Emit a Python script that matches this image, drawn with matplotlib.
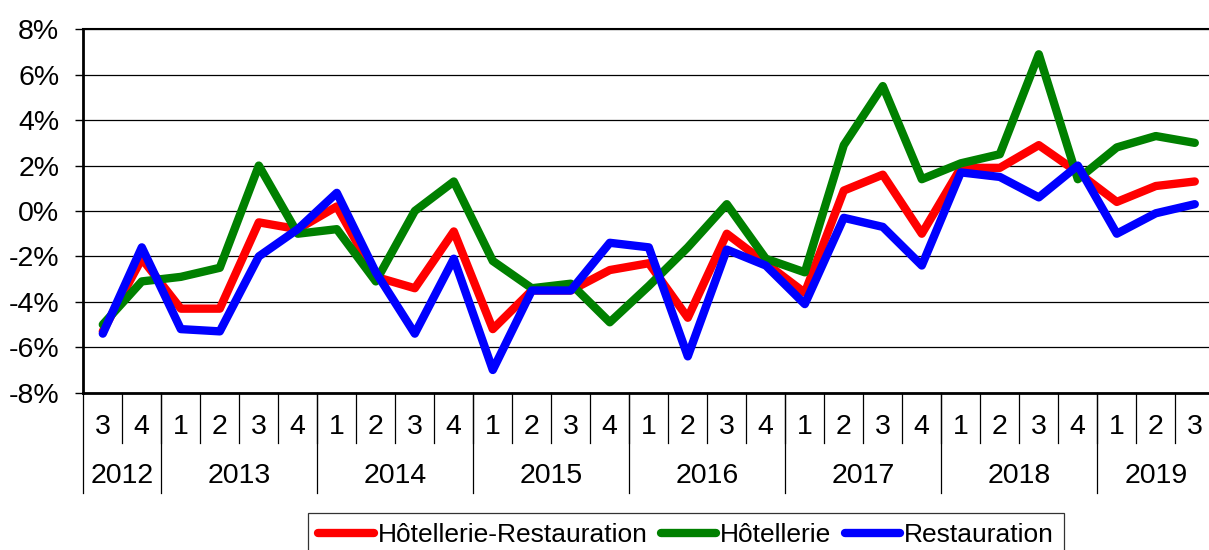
import matplotlib
matplotlib.use("Agg")
import matplotlib.pyplot as plt
import numpy as np

# ---------------- data ----------------
quarter_labels = ["3", "4",
                  "1", "2", "3", "4",
                  "1", "2", "3", "4",
                  "1", "2", "3", "4",
                  "1", "2", "3", "4",
                  "1", "2", "3", "4",
                  "1", "2", "3", "4",
                  "1", "2", "3"]
year_labels = ["2012", "2013", "2014", "2015", "2016", "2017", "2018", "2019"]
quarters_per_year = [2, 4, 4, 4, 4, 4, 4, 3]

hotel_restau = [-5.3, -2.1, -4.3, -4.3, -0.5, -0.8, 0.2, -2.9, -3.4, -0.9,
                -5.2, -3.5, -3.5, -2.6, -2.3, -4.7, -1.0, -2.3, -3.6, 0.9,
                1.6, -1.0, 1.9, 1.9, 2.9, 1.7, 0.4, 1.1, 1.3]
hotellerie = [-5.0, -3.1, -2.9, -2.5, 2.0, -1.0, -0.8, -3.1, 0.0, 1.3,
              -2.2, -3.4, -3.2, -4.9, -3.3, -1.6, 0.3, -2.1, -2.7, 2.9,
              5.5, 1.4, 2.1, 2.5, 6.9, 1.4, 2.8, 3.3, 3.0]
restauration = [-5.4, -1.6, -5.2, -5.3, -2.0, -0.8, 0.8, -2.7, -5.4, -2.1,
                -7.0, -3.5, -3.5, -1.4, -1.6, -6.4, -1.7, -2.4, -4.1, -0.3,
                -0.7, -2.4, 1.7, 1.5, 0.6, 2.0, -1.0, -0.1, 0.3]
series_names = ["Hôtellerie-Restauration", "Hôtellerie", "Restauration"]
y_ticks = [-8, -6, -4, -2, 0, 2, 4, 6, 8]

# ---------------- style ----------------
plt.rcParams["font.family"] = ["Liberation Sans", "DejaVu Sans"]
plt.rcParams["axes.unicode_minus"] = False
FS = 20.5
LEG_FS = 19

W, H = 1209, 550
fig = plt.figure(figsize=(W / 100, H / 100), dpi=100)
ax_left, ax_top, ax_bottom = 83.3, 29.3, 392.7
slot = 39.0
n = len(quarter_labels)
ax = fig.add_axes([ax_left / W, 1 - ax_bottom / H, n * slot / W, (ax_bottom - ax_top) / H])
ax_h = ax_bottom - ax_top

x = np.arange(n)
colors = ["#FF0000", "#008000", "#0000FF"]
for vals, name, c in zip([hotel_restau, hotellerie, restauration], series_names, colors):
    ax.plot(x, vals, color=c, lw=6.0, label=name, solid_joinstyle="round",
            solid_capstyle="round", zorder=3)

ax.set_xlim(-0.5, n - 0.5)
ax.set_ylim(-8, 8)
ax.set_yticks(y_ticks)
ax.set_yticklabels([f"{v}%" for v in y_ticks], fontsize=FS)
ax.tick_params(axis="y", length=5.8, width=1, pad=11.5, direction="out")
ax.set_xticks([])
ax.grid(axis="y", color="black", lw=0.9, zorder=1)
ax.set_axisbelow(True)

for s in ["left", "bottom"]:
    ax.spines[s].set_linewidth(2)
ax.spines["top"].set_linewidth(1.5)
ax.spines["right"].set_visible(False)

# ---------------- two-level category axis ----------------
tr = ax.get_xaxis_transform()
q_y = -(426.7 - ax_bottom) / ax_h
y_y = -(476.0 - ax_bottom) / ax_h
q_sep = -(443.0 - ax_bottom) / ax_h
y_sep = -(493.3 - ax_bottom) / ax_h

for i, q in enumerate(quarter_labels):
    ax.text(i, q_y, q, transform=tr, ha="center", va="center", fontsize=FS, clip_on=False)

year_starts = np.concatenate([[0], np.cumsum(quarters_per_year)[:-1]])
for i in range(1, n):
    ax.plot([i - 0.5, i - 0.5], [0, q_sep], transform=tr, color="black", lw=0.9, clip_on=False)
for start, cnt, yl in zip(year_starts, quarters_per_year, year_labels):
    ax.plot([start - 0.5, start - 0.5], [0, y_sep], transform=tr, color="black", lw=0.9, clip_on=False)
    ax.text(start + (cnt - 1) / 2, y_y, yl, transform=tr, ha="center", va="center",
            fontsize=FS, clip_on=False)

# ---------------- legend ----------------
leg = fig.legend(loc="upper center", bbox_to_anchor=(686 / W, 1 - 512.7 / H),
                 ncol=3, fontsize=LEG_FS, frameon=True, fancybox=False, borderaxespad=0,
                 handlelength=2.1, handletextpad=0.15, columnspacing=0.5,
                 borderpad=0.4)
leg.get_frame().set_edgecolor("black")
leg.get_frame().set_linewidth(0.9)
for h in leg.get_lines():
    h.set_linewidth(6.0)
    h.set_solid_capstyle("round")

fig.savefig("out.png", dpi=100)
